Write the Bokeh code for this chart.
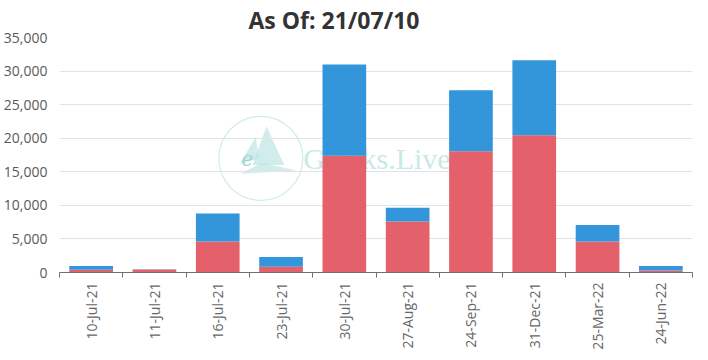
import numpy as np
from bokeh.plotting import figure
from bokeh.models import ColumnDataSource, FixedTicker, NumeralTickFormatter, Range1d, Title, Label
from bokeh.embed import file_html
from bokeh.resources import INLINE

# ---- data ----
expiries = ["10-Jul-21", "11-Jul-21", "16-Jul-21", "23-Jul-21", "30-Jul-21",
            "27-Aug-21", "24-Sep-21", "31-Dec-21", "25-Mar-22", "24-Jun-22"]
series_a = [400, 430, 4600, 850, 17380, 7600, 18050, 20450, 4600, 300]     # red (bottom)
series_b = [550, 70, 4180, 1450, 13610, 2050, 9110, 11170, 2470, 650]      # blue (top)
y_ticks = [0, 5000, 10000, 15000, 20000, 25000, 30000, 35000]
title_text = "As Of: 21/07/10"

RED = "#e4606a"
BLUE = "#3396da"
FONT = "Open Sans"

n = len(expiries)
centers = [i + 0.5 for i in range(n)]
src = ColumnDataSource(dict(x=centers, a=series_a, b=series_b))

p = figure(width=700, height=352, output_backend="svg", toolbar_location=None,
           x_range=Range1d(0, n), y_range=Range1d(0, 35000),
           min_border_left=53, min_border_right=8, min_border_top=0, min_border_bottom=0)
p.outline_line_color = None
p.background_fill_color = "white"

p.vbar_stack(["a", "b"], x="x", width=0.69, color=[RED, BLUE], source=src, line_width=0)

# title
t = Title(text=title_text, align="left", offset=189, text_font=FONT, text_font_size="23px",
          text_font_style="bold", text_color="#333333", standoff=3)
p.add_layout(t, "above")

# x axis: labels at centers, ticks at boundaries
xt = FixedTicker(ticks=centers, minor_ticks=list(range(n + 1)))
p.xaxis.ticker = xt
p.xaxis.axis_label = None
p.xaxis.major_label_overrides = {c: lab for c, lab in zip(centers, expiries)}
p.xaxis.major_label_orientation = np.pi / 2
p.xaxis.major_tick_line_color = None
p.xaxis.minor_tick_in = 0
p.xaxis.minor_tick_out = 5
p.xaxis.minor_tick_line_color = "#6e7079"
p.xaxis.axis_line_color = "#6e7079"
p.xaxis.major_label_text_font = FONT
p.xaxis.major_label_text_font_size = "14px"
p.xaxis.major_label_text_color = "#666666"
p.xaxis.major_label_standoff = 4
p.xgrid.grid_line_color = None

# y axis
p.yaxis.ticker = FixedTicker(ticks=y_ticks)
p.yaxis.axis_label = None
p.yaxis.formatter = NumeralTickFormatter(format="0,0")
p.yaxis.axis_line_color = None
p.yaxis.major_tick_line_color = None
p.yaxis.minor_tick_line_color = None
p.yaxis.major_label_text_font = FONT
p.yaxis.major_label_text_font_size = "14px"
p.yaxis.major_label_text_color = "#5a5a5a"
p.yaxis.major_label_standoff = 6
p.ygrid.ticker = FixedTicker(ticks=y_ticks)
p.ygrid.grid_line_color = "#e3e3e3"

# faint watermark (decoration)
wm = "#b9e4e0"
p.scatter(x=[3.18], y=[17000], size=84, marker="circle", fill_color=None,
          line_color=wm, line_alpha=0.7, line_width=1.2, level="underlay")
p.patches(xs=[[3.27, 3.55, 3.05], [3.1, 2.85, 3.15], [2.85, 3.75, 3.2]],
          ys=[[21800, 16000, 16000], [20200, 16200, 17000], [14700, 15200, 16300]],
          fill_color=wm, fill_alpha=0.65, line_color=None, level="underlay")
p.add_layout(Label(x=2.97, y=17000, text="e", text_font="DejaVu Serif",
                   text_font_style="italic", text_font_size="20px", text_color="#9fd6d1",
                   text_baseline="middle", text_align="center", level="underlay"))
p.add_layout(Label(x=3.85, y=17000, text="Greeks.Live", text_font="Liberation Serif",
                   text_font_size="30px", text_color=wm, text_alpha=0.8,
                   text_baseline="middle", level="underlay"))

open("out.html", "w").write(file_html(p, INLINE))
